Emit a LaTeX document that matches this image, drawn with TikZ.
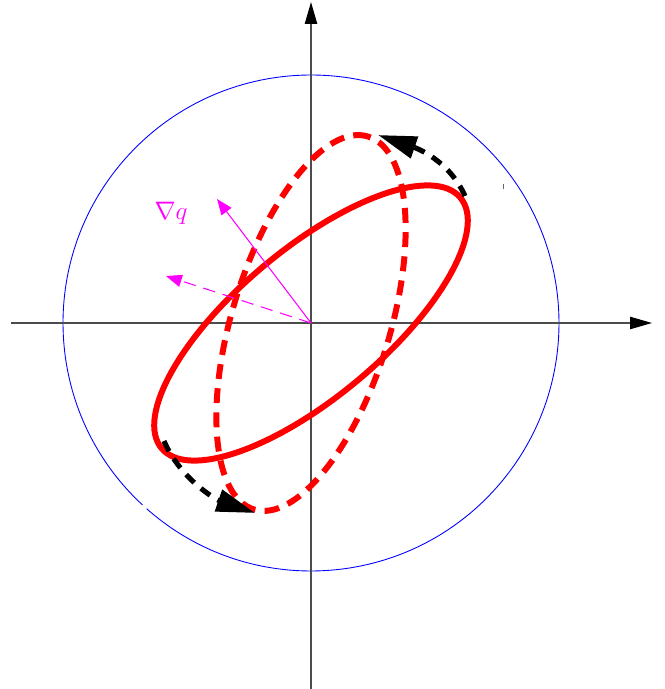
\documentclass[tikz,border=0pt]{standalone}
\usetikzlibrary{arrows.meta}
\definecolor{mag}{RGB}{255,0,255}
\definecolor{myblue}{RGB}{0,0,255}
\definecolor{myred}{RGB}{255,0,0}
\tikzset{
  axis/.style={line width=0.8pt, black!70, -{Triangle[length=12.5pt,width=7pt,color=black]}},
  solidell/.style={myred, line width=3.4pt},
  dashell/.style={myred, line width=3.4pt, dash pattern=on 8.5pt off 5.3pt},
  turn/.style={black, line width=2.9pt, dash pattern=on 6.5pt off 5pt, -{Triangle[length=22pt,width=12.5pt]}},
  grad/.style={mag, line width=0.6pt, -{Triangle[length=9pt,width=7pt]}},
  gradd/.style={grad, dash pattern=on 7pt off 4.5pt},
}
\begin{document}
\begin{tikzpicture}[x=0.02cm,y=0.02cm]
\useasboundingbox (-311,-366) rectangle (354,323);
\coordinate (O) at (0,0);
% circle with tiny gap
\draw[myblue, line width=0.5pt] (O) ++(228.5:248) arc[start angle=228.5, end angle=587.2, radius=248];
% axes
\coordinate (xl) at (-300,0);
\coordinate (xr) at (341,0);
\coordinate (yb) at (0,-366);
\coordinate (yt) at (0,321);
\draw[axis] (xl) -- (xr);
\draw[axis] (yb) -- (yt);
% ellipses
\draw[solidell, shift={(6,0)}, rotate=40] (O) ellipse[x radius=195, y radius=74];
\draw[dashell, rotate=73] (O) ellipse[x radius=195, y radius=79];
% rotation arrows
\coordinate (s1) at (154,127);
\coordinate (e1) at (67,188);
\coordinate (s2) at (-147,-118);
\coordinate (e2) at (-56,-190);
\draw[turn] (s1) .. controls (138,163) and (105,175) .. (e1);
\draw[turn] (s2) .. controls (-130,-157) and (-94,-177) .. (e2);
% gradient arrows
\coordinate (g1) at (-94,124);
\coordinate (g2) at (-145,47);
\draw[grad] (O) -- (g1);
\draw[gradd] (O) -- (g2);
\node[mag, font=\Large] (lab) at (-140,110) {$\nabla q$};
% small tick
\coordinate (t1) at (192,134);
\coordinate (t2) at (192,139);
\draw[black!60, line width=0.5pt] (t1) -- (t2);
\end{tikzpicture}
\end{document}
